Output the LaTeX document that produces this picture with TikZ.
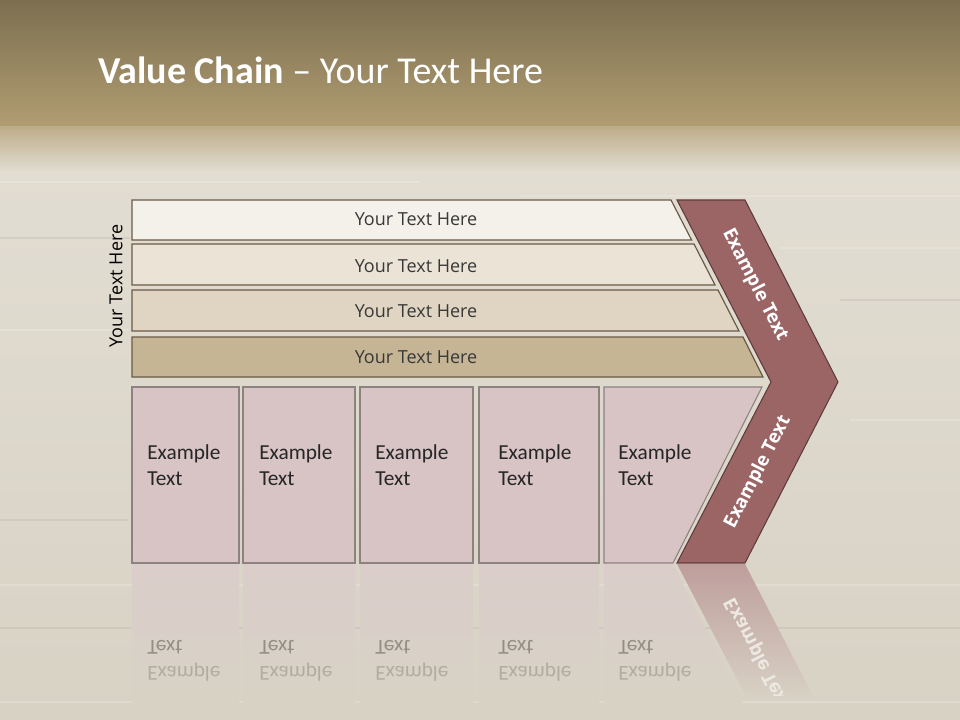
\documentclass[tikz,border=0pt]{standalone}
\usepackage{fontspec}
\setmainfont{Carlito}
\newfontfamily\osans{Open Sans}

\definecolor{topdark}{HTML}{7C6F50}
\definecolor{toplight}{HTML}{B19D72}
\definecolor{floorhi}{HTML}{E2DDD2}
\definecolor{floorlo}{HTML}{D8D2C5}
\definecolor{barA}{HTML}{F4F1EB}
\definecolor{barB}{HTML}{EBE3D6}
\definecolor{barC}{HTML}{E0D5C2}
\definecolor{barD}{HTML}{C6B595}
\definecolor{barline}{HTML}{6B5A47}
\definecolor{boxfill}{HTML}{D8C3C5}
\definecolor{boxline}{HTML}{8C8280}
\definecolor{chev}{HTML}{9B6566}
\definecolor{chevline}{HTML}{5E3B3C}
\definecolor{reflbox}{HTML}{DACDCA}
\definecolor{reflchev}{HTML}{BE9E9C}

\begin{document}
\begin{tikzpicture}[x=0.75pt,y=-0.75pt,
    bar/.style={draw=barline,line width=0.9pt},
    bartext/.style={font=\osans\fontsize{13.5}{16}\selectfont,text=black!78},
    box/.style={draw=boxline,fill=boxfill,line width=0.8pt},
    boxtext/.style={font=\fontsize{16}{19.5}\selectfont,align=left,anchor=north west,inner sep=0pt,text=black!85},
    chevtext/.style={font=\osans\bfseries\fontsize{14}{16}\selectfont,text=white},
    refltext/.style={font=\fontsize{16}{19.5}\selectfont,align=left,anchor=north west,inner sep=0pt},
    grain/.style={white,opacity=0.18,line width=1pt}]
\useasboundingbox (0,0) rectangle (960,720);

% background
\fill[floorlo] (0,0) rectangle (960,720);
\shade[top color=floorhi,bottom color=floorlo] (0,165) rectangle (960,720);
\shade[top color=topdark,bottom color=toplight] (0,0) rectangle (960,127);
\shade[top color=toplight!75!floorhi,bottom color=floorhi] (0,127) rectangle (960,172);

% wood grain
\draw[grain] (0,182) -- (420,182);
\draw[grain] (520,196) -- (960,196);
\draw[grain,black!40] (0,238) -- (130,238);
\draw[grain] (780,248) -- (960,248);
\draw[grain,black!40] (840,300) -- (960,300);
\draw[grain] (0,330) -- (128,330);
\draw[grain] (850,420) -- (960,420);
\draw[grain,black!40] (0,520) -- (128,520);
\draw[grain] (0,585) -- (960,585);
\draw[grain,black!40] (0,628) -- (960,628);
\draw[grain] (0,702) -- (960,702);

% title
\node[anchor=base west,inner sep=0pt,text=white,font=\fontsize{28.5}{34}\selectfont] (title) at (98,84)
    {\textbf{Value Chain} -- Your Text Here};

% side label
\node[bartext,text=black,rotate=90] (sidelabel) at (116,286) {Your Text Here};

% bars
\draw[bar,fill=barA] (132,200) -- (671,200) -- (691.6,240) -- (132,240) -- cycle;
\draw[bar,fill=barB] (132,244) -- (694,244) -- (715,285) -- (132,285) -- cycle;
\draw[bar,fill=barC] (132,290) -- (718,290) -- (739,331) -- (132,331) -- cycle;
\draw[bar,fill=barD] (132,337) -- (743,337) -- (763,377) -- (132,377) -- cycle;
\node[bartext] (barone) at (416,219) {Your Text Here};
\node[bartext] (bartwo) at (416,266) {Your Text Here};
\node[bartext] (barthree) at (416,311) {Your Text Here};
\node[bartext] (barfour) at (416,357) {Your Text Here};

% chevron
\draw[fill=chev,draw=chevline,line width=0.8pt] (677,200) -- (745,200) -- (838,382) -- (745,563) -- (677,563) -- (771,382) -- cycle;
\node[chevtext,rotate=-62.8] (chevup) at (755,285) {Example Text};
\node[chevtext,rotate=62.8] (chevdown) at (758,472) {Example Text};

% boxes
\draw[box] (132,387) rectangle (239,563);
\draw[box] (243,387) rectangle (355,563);
\draw[box] (360,387) rectangle (473,563);
\draw[box] (479,387) rectangle (599,563);
\draw[box] (604,387) -- (762,387) -- (673,563) -- (604,563) -- cycle;
\node[boxtext] (boxone) at (147,444) {Example\\Text};
\node[boxtext] (boxtwo) at (259,444) {Example\\Text};
\node[boxtext] (boxthree) at (375,444) {Example\\Text};
\node[boxtext] (boxfour) at (498,444) {Example\\Text};
\node[boxtext] (boxfive) at (618,444) {Example\\Text};

% reflection
\shade[top color=reflbox,bottom color=floorlo] (132,564) rectangle (239,705);
\shade[top color=reflbox,bottom color=floorlo] (243,564) rectangle (355,705);
\shade[top color=reflbox,bottom color=floorlo] (360,564) rectangle (473,705);
\shade[top color=reflbox,bottom color=floorlo] (479,564) rectangle (599,705);
\shade[top color=reflbox,bottom color=floorlo] (604,564) -- (673,564) -- (744,705) -- (604,705) -- cycle;
\shade[top color=reflchev,bottom color=floorlo] (677,564) -- (745,564) -- (815,700) -- (748,700) -- cycle;
\begin{scope}
    \clip (0,564) rectangle (960,695); % keep the mirror above the fade
    \begin{scope}[shift={(0,1126)},yscale=-1,transform shape]
        \node[refltext] (reflone) at (147,444) {\textcolor{floorlo!82!black}{Example}\\\textcolor{floorlo!68!black}{Text}};
        \node[refltext] (refltwo) at (259,444) {\textcolor{floorlo!82!black}{Example}\\\textcolor{floorlo!68!black}{Text}};
        \node[refltext] (reflthree) at (375,444) {\textcolor{floorlo!82!black}{Example}\\\textcolor{floorlo!68!black}{Text}};
        \node[refltext] (reflfour) at (498,444) {\textcolor{floorlo!82!black}{Example}\\\textcolor{floorlo!68!black}{Text}};
        \node[refltext] (reflfive) at (618,444) {\textcolor{floorlo!82!black}{Example}\\\textcolor{floorlo!68!black}{Text}};
        \node[chevtext,rotate=62.8,text=white!50!floorlo] (reflchev) at (758,472) {Example Text};
    \end{scope}
\end{scope}

\end{tikzpicture}
\end{document}
